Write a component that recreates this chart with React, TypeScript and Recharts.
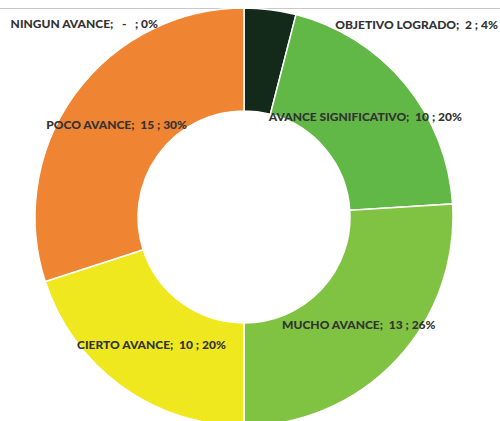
import { PieChart, Pie, Cell } from "recharts";

const categories = [
  "OBJETIVO LOGRADO",
  "AVANCE SIGNIFICATIVO",
  "MUCHO AVANCE",
  "CIERTO AVANCE",
  "POCO AVANCE",
  "NINGUN AVANCE",
];
const counts = [2, 10, 13, 10, 15, 0];
const colors = ["#13291a", "#62b846", "#80c342", "#f0e81e", "#ef8433", "#c0504d"];

const data = categories.map((name, i) => ({ name, value: counts[i] }));
const total = counts.reduce((a, b) => a + b, 0);

const RAD = Math.PI / 180;

function renderLabel(props: any) {
  const { cx, cy, midAngle, innerRadius, outerRadius, index } = props;
  const v = counts[index];
  const pct = Math.round((v / total) * 100);
  const text = `${categories[index]};  ${v === 0 ? " -  " : v} ; ${pct}%`;
  const style: any = {
    fontFamily: "Lato, sans-serif",
    fontWeight: 900,
    fontSize: 12,
    fill: "#333333",
    whiteSpace: "pre",
  };
  if (v / total < 0.05) {
    // small slices: label pushed outside, near top of ring
    const ox = cx + outerRadius * Math.cos(-midAngle * RAD);
    const oy = cy + outerRadius * Math.sin(-midAngle * RAD);
    const right = index === 0;
    return (
      <text
        x={right ? ox + 65 : ox - 86}
        y={oy + 15}
        textAnchor={right ? "start" : "end"}
        dominantBaseline="central"
        style={style}
      >
        {text}
      </text>
    );
  }
  const r = (innerRadius + outerRadius) / 2;
  const x = cx + r * Math.cos(-midAngle * RAD);
  const y = cy + r * Math.sin(-midAngle * RAD);
  return (
    <text x={x} y={y} textAnchor="middle" dominantBaseline="central" style={style}>
      {text}
    </text>
  );
}

export default function App() {
  return (
    <div style={{ position: "relative", width: 500, height: 421, background: "#fff" }}>
      <style>{"body{margin:0}"}</style>
      <div style={{ position: "absolute", left: 0, top: 8, width: 500, height: 1, background: "#c8c8c8" }} />
      <PieChart width={500} height={421} margin={{ top: 0, right: 0, bottom: 0, left: 0 }}>
        <Pie
          data={data}
          dataKey="value"
          nameKey="name"
          cx={244}
          cy={217}
          innerRadius={106}
          outerRadius={209}
          startAngle={90}
          endAngle={-270}
          stroke="#ffffff"
          strokeWidth={1.5}
          label={renderLabel}
          labelLine={false}
          isAnimationActive={false}
        >
          {data.map((d, i) => (
            <Cell key={d.name} fill={colors[i]} />
          ))}
        </Pie>
      </PieChart>
    </div>
  );
}
